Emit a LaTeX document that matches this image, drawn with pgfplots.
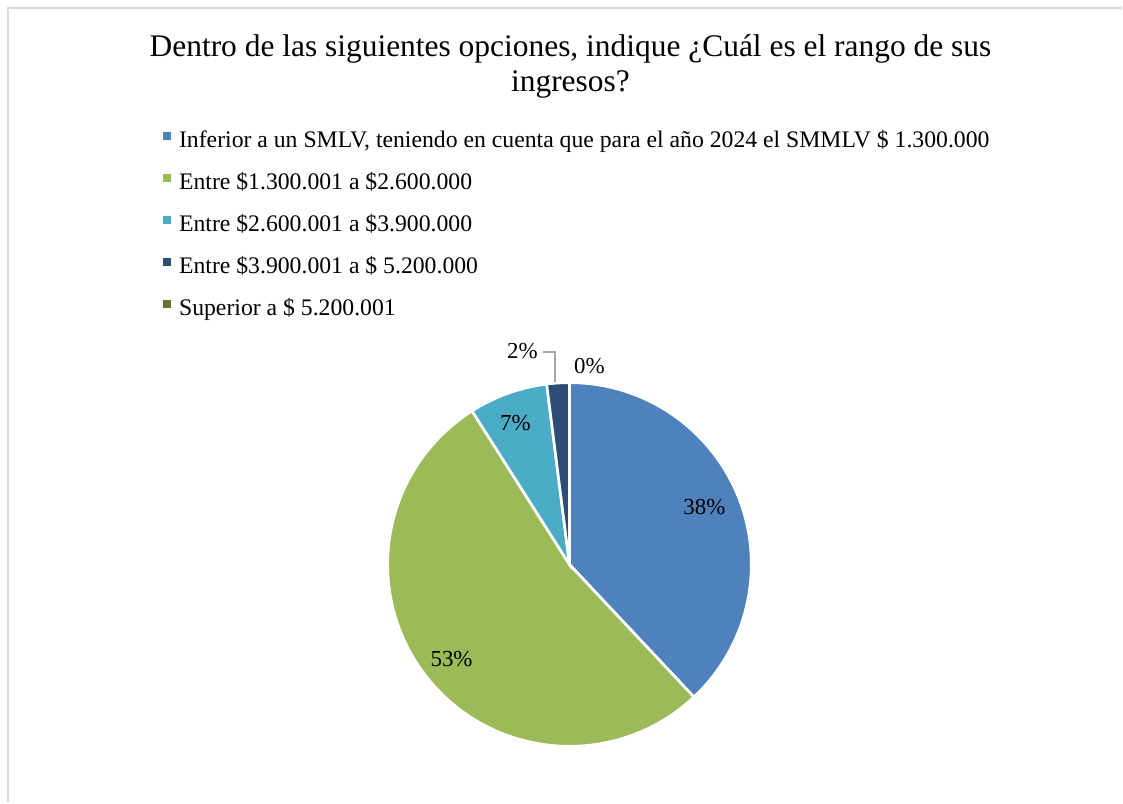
\documentclass[border=0pt]{standalone}
\usepackage{pgfplots}
\usepackage{pgfplotstable}
\pgfplotsset{compat=1.18}
\usepackage{fontspec}
\setmainfont{Liberation Serif}
\definecolor{cBlue}{HTML}{4F81BD}
\definecolor{cGreen}{HTML}{9BBB59}
\definecolor{cCyan}{HTML}{4BACC6}
\definecolor{cNavy}{HTML}{2C4D75}
\definecolor{cOlive}{HTML}{5F7530}
\definecolor{cFrame}{HTML}{D9D9D9}
\definecolor{cLeader}{HTML}{A6A6A6}
\pgfplotstableread{
value
38
53
7
2
0
}\piedata
\begin{document}
\begin{tikzpicture}
\pgfplotstablegetelem{0}{value}\of\piedata \let\vA\pgfplotsretval
\pgfplotstablegetelem{1}{value}\of\piedata \let\vB\pgfplotsretval
\pgfplotstablegetelem{2}{value}\of\piedata \let\vC\pgfplotsretval
\pgfplotstablegetelem{3}{value}\of\piedata \let\vD\pgfplotsretval
\pgfplotstablegetelem{4}{value}\of\piedata \let\vE\pgfplotsretval
\pgfmathsetmacro\aO{90}
\pgfmathsetmacro\aA{\aO-3.6*\vA}
\pgfmathsetmacro\aB{\aA-3.6*\vB}
\pgfmathsetmacro\aC{\aB-3.6*\vC}
\pgfmathsetmacro\aD{\aC-3.6*\vD}
\pgfmathsetmacro\aE{\aD-3.6*\vE}
\begin{axis}[
  scale only axis, width=842.25pt, height=602.25pt,
  xmin=0, xmax=1123, ymin=0, ymax=803,
  hide axis, clip=false,
  legend style={at={(axis cs:163,671)}, anchor=north west, draw=none, fill=none,
    inner sep=0pt, outer sep=0pt,
    font=\fontsize{17.8}{20}\selectfont, row sep=15.5pt,
    nodes={inner sep=0pt, text height=12pt, text depth=4pt}},
  legend cell align=left,
  legend image code/.code={\fill[#1] (0pt,2.4pt) rectangle (5.25pt,7.7pt); \path[draw=none] (0pt,0pt) (12pt,0pt);},
]
\path (axis cs:0,0) rectangle (axis cs:1123,803);
% frame
\draw[cFrame, line width=1.6pt] (axis cs:8,0) -- (axis cs:8,795) -- (axis cs:1123,795);
% title
\node[anchor=base, font=\fontsize{23.6}{27}\selectfont] at (axis cs:571,746) {Dentro de las siguientes opciones, indique ¿Cuál es el rango de sus};
\node[anchor=base, font=\fontsize{23.6}{27}\selectfont] at (axis cs:571,711) {ingresos?};
% legend
\addlegendimage{cBlue}
\addlegendentry{Inferior a un SMLV, teniendo en cuenta que para el año 2024 el SMMLV \$ 1.300.000}
\addlegendimage{cGreen}
\addlegendentry{Entre \$1.300.001 a \$2.600.000}
\addlegendimage{cCyan}
\addlegendentry{Entre \$2.600.001 a \$3.900.000}
\addlegendimage{cNavy}
\addlegendentry{Entre \$3.900.001 a \$ 5.200.000}
\addlegendimage{cOlive}
\addlegendentry{Superior a \$ 5.200.001}
% pie slices
\filldraw[fill=cBlue, draw=white, line width=2pt] (axis cs:570,238) -- ([shift={(\aO:136.5pt)}]axis cs:570,238) arc[start angle=\aO, end angle=\aA, radius=136.5pt] -- cycle;
\filldraw[fill=cGreen, draw=white, line width=2pt] (axis cs:570,238) -- ([shift={(\aA:136.5pt)}]axis cs:570,238) arc[start angle=\aA, end angle=\aB, radius=136.5pt] -- cycle;
\filldraw[fill=cCyan, draw=white, line width=2pt] (axis cs:570,238) -- ([shift={(\aB:136.5pt)}]axis cs:570,238) arc[start angle=\aB, end angle=\aC, radius=136.5pt] -- cycle;
\filldraw[fill=cNavy, draw=white, line width=2pt] (axis cs:570,238) -- ([shift={(\aC:136.5pt)}]axis cs:570,238) arc[start angle=\aC, end angle=\aD, radius=136.5pt] -- cycle;
% leader line
\draw[cLeader, line width=1.5pt] (axis cs:544,451) -- (axis cs:556,451) -- (axis cs:556,421);
% data labels
\begin{scope}[every node/.style={font=\fontsize{17.2}{20}\selectfont, inner sep=0pt}]
\node at (axis cs:705,295) {38\%};
\node at (axis cs:452,143) {53\%};
\node at (axis cs:516,380) {7\%};
\node at (axis cs:523,452) {2\%};
\node at (axis cs:590,437) {0\%};
\end{scope}
\end{axis}
\end{tikzpicture}
\end{document}
